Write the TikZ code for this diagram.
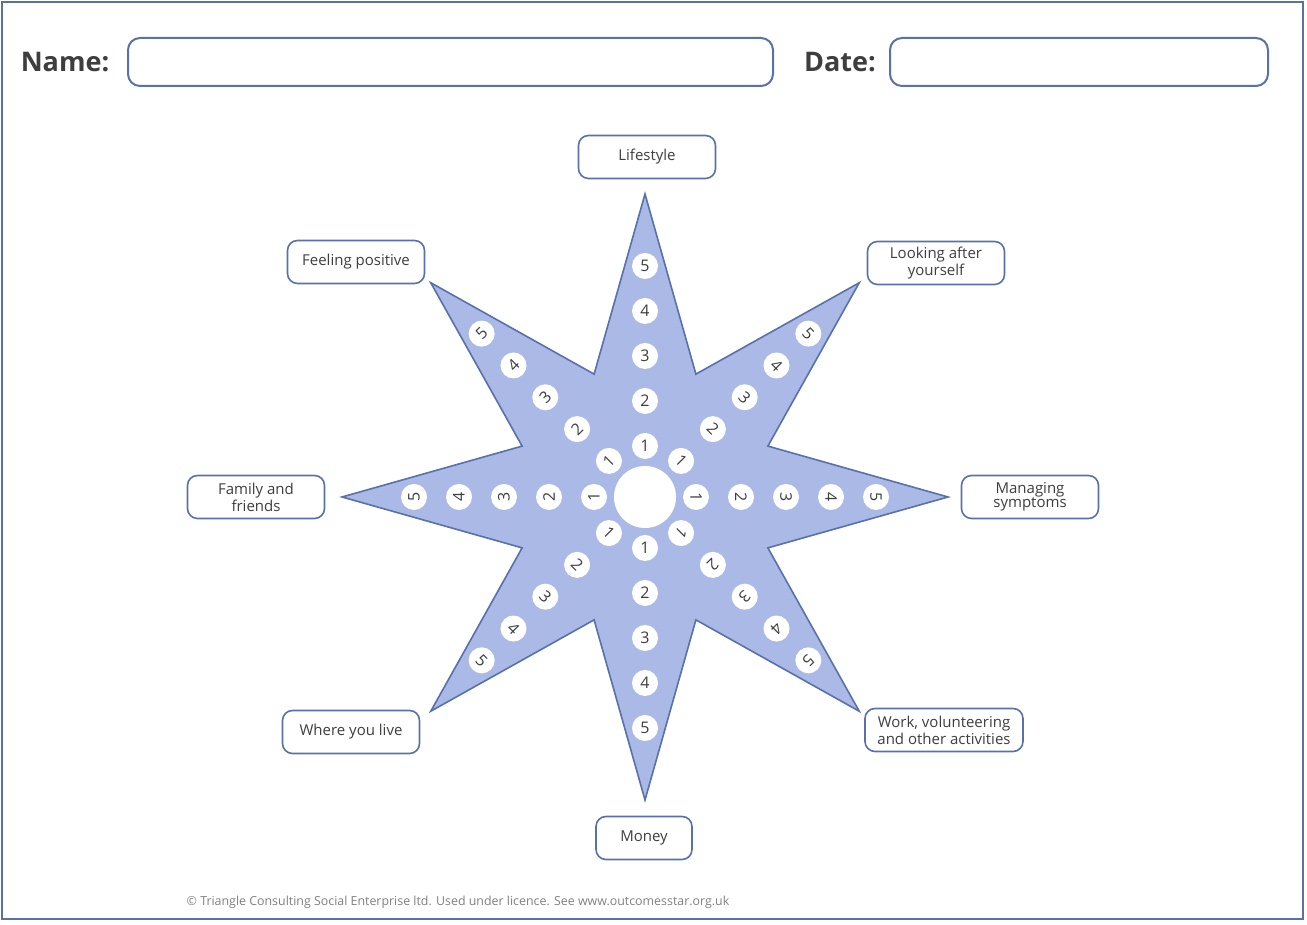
\documentclass[tikz,border=0pt]{standalone}
\usepackage{fontspec}
\setmainfont{Open Sans}
\usetikzlibrary{positioning}
\definecolor{starblue}{RGB}{170,185,230}
\definecolor{edgeblue}{RGB}{88,113,170}
\definecolor{inkgrey}{RGB}{62,62,62}

\begin{document}
\begin{tikzpicture}[x=0.5pt,y=0.5pt,
	labelbox/.style={draw=edgeblue,line width=0.8pt,rounded corners=5pt,fill=white,minimum width=68.5pt,minimum height=21.5pt,inner sep=1pt,align=center,font=\fontsize{7.5}{7.2}\selectfont,text=inkgrey},
	numdot/.style={circle,fill=white,minimum size=13pt,inner sep=0pt,font=\fontsize{8}{8}\selectfont,text=inkgrey},
	fieldbox/.style={draw=edgeblue,line width=1pt,rounded corners=6pt,minimum height=24pt},
	heading/.style={font=\bfseries\fontsize{13.5}{14}\selectfont,text=inkgrey}]
	\useasboundingbox (0,0) rectangle (1307,925);
	\draw[edgeblue,line width=1pt] (2,6) rectangle (1303,923);
	\node[heading] (name) at (65,863) {Name:};
	\node[fieldbox,minimum width=322.5pt] (namefield) at (450.5,863) {};
	\node[heading] (date) at (840,863) {Date:};
	\node[fieldbox,minimum width=189pt] (datefield) at (1079,863) {};
	\begin{scope}[shift={(645,428)}]
		\draw[fill=starblue,draw=edgeblue,line width=0.8pt] (0:303) \foreach \k in {0,...,7} {-- ({45*\k+22.5}:133) -- ({45*\k+45}:303)} -- cycle;
		\node[circle,fill=white,minimum size=31pt,inner sep=0pt] (hub) at (0,0) {};
		\foreach \a/\r/\nm in {90/0/t,45/-45/tr,0/-90/r,-45/-135/br,-90/0/b,-135/-45/bl,180/90/l,135/45/tl}
			\foreach \k/\d in {1/51,2/96,3/141,4/186,5/231}
				\node[numdot,rotate=\r] (\nm\k) at (\a:\d) {\k};
	\end{scope}
	\node[labelbox] (lifestyle) at (647,768) {Lifestyle};
	\node[labelbox] (selfcare) at (936,662) {Looking after\\yourself};
	\node[labelbox] (symptoms) at (1030,428) {Managing\\symptoms};
	\node[labelbox,minimum width=79pt] (work) at (944,195) {Work, volunteering\\and other activities};
	\node[labelbox,minimum width=48pt] (money) at (644,87) {Money};
	\node[labelbox] (home) at (351,193) {Where you live};
	\node[labelbox] (family) at (256,428) {Family and\\friends};
	\node[labelbox] (positive) at (356,663) {Feeling positive};
	\node[font=\fontsize{6.2}{6.5}\selectfont,text=gray] (credit) at (458,23) {© Triangle Consulting Social Enterprise ltd. Used under licence. See www.outcomesstar.org.uk};
\end{tikzpicture}
\end{document}
